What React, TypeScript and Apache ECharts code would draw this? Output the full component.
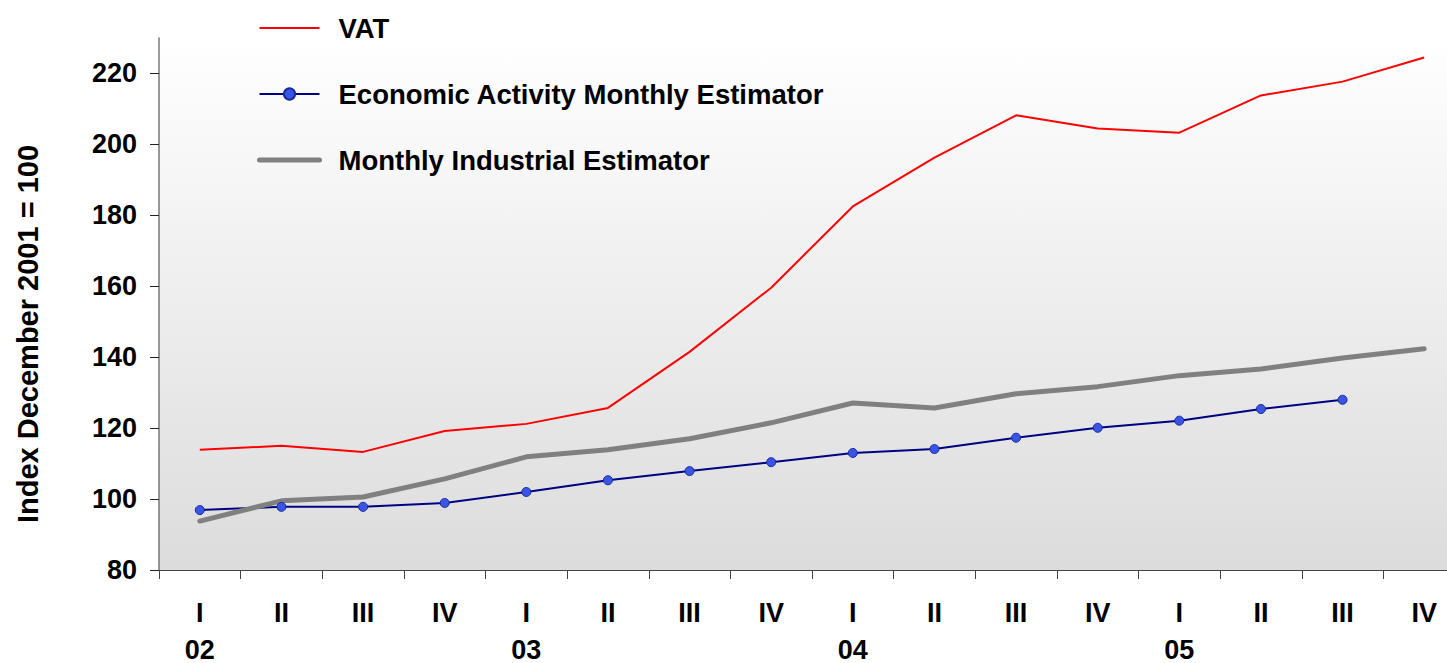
import React, { useEffect, useRef } from "react";
import * as echarts from "echarts";

const categories = ["I\n02", "II", "III", "IV", "I\n03", "II", "III", "IV", "I\n04", "II", "III", "IV", "I\n05", "II", "III", "IV"];
const vat = [113.9, 115.0, 113.3, 119.2, 121.2, 125.7, 141.5, 159.6, 182.5, 196.3, 208.2, 204.5, 203.3, 213.8, 217.7, 224.5];
const emae = [96.9, 97.8, 97.8, 98.9, 102.0, 105.3, 107.9, 110.4, 113.0, 114.1, 117.3, 120.1, 122.1, 125.4, 128.0, null];
const industrial = [93.8, 99.5, 100.6, 105.7, 111.9, 113.9, 117.0, 121.5, 127.1, 125.7, 129.7, 131.7, 134.8, 136.7, 139.8, 142.4];
const yTicks = [80, 100, 120, 140, 160, 180, 200, 220];
const yTitle = "Index December 2001 = 100";

const FONT = "'Liberation Sans', Arial, sans-serif";

export default function App() {
  const ref = useRef<HTMLDivElement>(null);
  useEffect(() => {
    document.body.style.margin = "0";
    const chart = echarts.init(ref.current!, null, { renderer: "svg" });
    chart.setOption({
      animation: false,
      backgroundColor: "#ffffff",
      textStyle: { fontFamily: FONT },
      graphic: [
        {
          type: "text",
          x: 28,
          y: 334,
          rotation: Math.PI / 2,
          style: {
            text: yTitle,
            fontFamily: FONT,
            fontSize: 29,
            fontWeight: "bold",
            fill: "#000",
            align: "center",
            verticalAlign: "middle",
          },
        },
      ],
      legend: {
        orient: "vertical",
        left: 252,
        top: 7,
        itemWidth: 60,
        itemHeight: 14,
        itemGap: 34,
        textStyle: { fontFamily: FONT, fontSize: 27.5, fontWeight: "bold", color: "#000", lineHeight: 32, padding: [0, 0, 0, 14] },
        data: [
          { name: "VAT", itemStyle: { opacity: 0 } },
          { name: "Economic Activity Monthly Estimator" },
          { name: "Monthly Industrial Estimator", itemStyle: { opacity: 0 }, lineStyle: { width: 5, cap: "round", color: "#808080" } },
        ],
      },
      grid: {
        left: 159,
        right: -18,
        top: 38,
        bottom: 93,
        outerBoundsMode: "none",
        containLabel: false,
        show: true,
        borderWidth: 0,
        backgroundColor: new echarts.graphic.LinearGradient(0, 0, 0, 1, [
          { offset: 0, color: "#ffffff" },
          { offset: 1, color: "#dcdcdc" },
        ]),
      },
      xAxis: {
        type: "category",
        data: categories,
        boundaryGap: true,
        axisLine: { lineStyle: { color: "#444", width: 1 } },
        axisTick: { show: true, length: 9, interval: 0, lineStyle: { color: "#444" } },
        axisLabel: { interval: 0, fontFamily: FONT, fontSize: 27, fontWeight: "bold", color: "#000", lineHeight: 37, margin: 24 },
        splitLine: { show: false },
      },
      yAxis: {
        type: "value",
        min: 80,
        max: 230,
        axisLine: { show: true, lineStyle: { color: "#777", width: 1.5 } },
        axisTick: { show: true, length: 9, customValues: yTicks, lineStyle: { color: "#222" } },
        axisLabel: { customValues: yTicks, fontFamily: FONT, fontSize: 27, fontWeight: "bold", color: "#000", margin: 22 },
        splitLine: { show: false },
      },
      series: [
        {
          name: "VAT",
          type: "line",
          data: vat,
          symbol: "none",
          lineStyle: { color: "#ff0000", width: 2 },
          itemStyle: { color: "#ff0000" },
        },
        {
          name: "Economic Activity Monthly Estimator",
          type: "line",
          data: emae,
          symbol: "circle",
          symbolSize: 9,
          lineStyle: { color: "#000080", width: 2 },
          itemStyle: { color: "#3a55e6", borderColor: "#1a2a9a", borderWidth: 1 },
        },
        {
          name: "Monthly Industrial Estimator",
          type: "line",
          data: industrial,
          symbol: "none",
          lineStyle: { color: "#808080", width: 5, cap: "round" },
          itemStyle: { color: "#808080" },
        },
      ],
    });
    return () => chart.dispose();
  }, []);
  return <div ref={ref} style={{ width: 1447, height: 663 }} />;
}
